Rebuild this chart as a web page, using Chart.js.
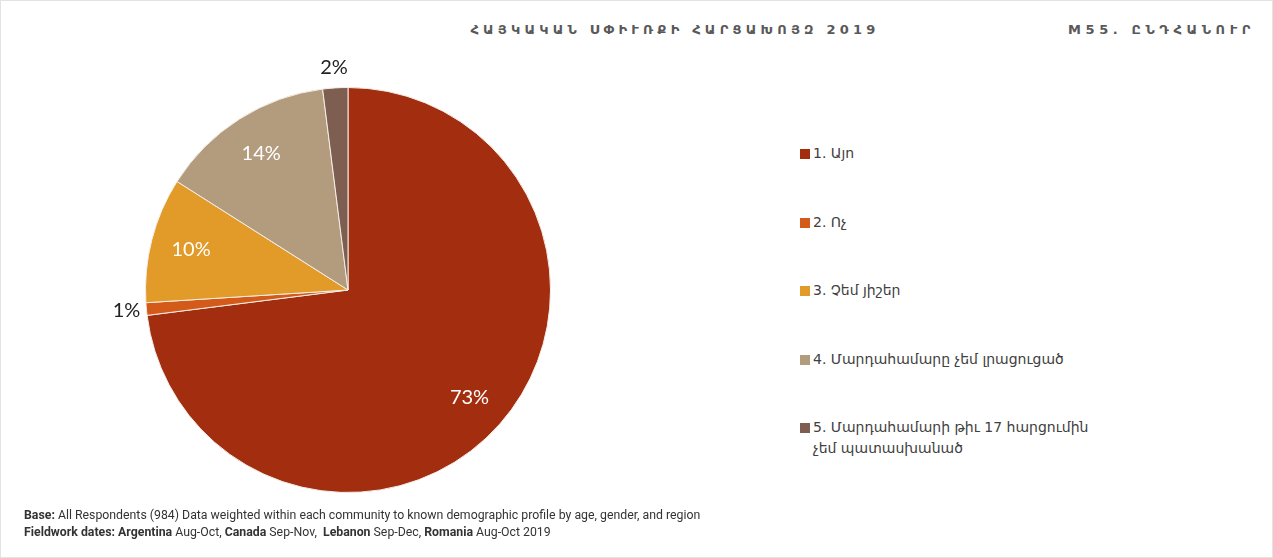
<!DOCTYPE html>
<html>
<head>
<meta charset="utf-8">
<script src="https://cdn.jsdelivr.net/npm/chart.js@4.4.0/dist/chart.umd.min.js"></script>
<style>
  html, body { margin: 0; padding: 0; background: #fff; }
  body { width: 1273px; height: 558px; position: relative; overflow: hidden; }
  .frame { position: absolute; left: 0; top: 0; width: 1271px; height: 556px; border: 1px solid #e3e3e3; }
  .title { position: absolute; top: 22px; left: 0; width: 1350px; text-align: center; font: bold 13px "DejaVu Sans", sans-serif; letter-spacing: 4.2px; color: #595959; }
  .code { position: absolute; top: 22px; right: 18px; font: bold 13px "DejaVu Sans", sans-serif; letter-spacing: 4.6px; color: #595959; }
  #chartBox { position: absolute; left: 100px; top: 60px; width: 496px; height: 460px; }
  #legend { position: absolute; left: 800px; top: 143px; margin: 0; padding: 0; list-style: none; font: 14px "DejaVu Sans", sans-serif; color: #404040; }
  #legend li { position: relative; height: 68.5px; padding-left: 13px; width: 292px; line-height: 21px; }
  #legend li span { position: absolute; left: 0; top: 6px; width: 10px; height: 10px; }
  .note { position: absolute; left: 24px; top: 507px; font: 12.3px "Liberation Sans Narrow", "Roboto", sans-serif; color: #333; line-height: 17px; }
</style>
</head>
<body>
<div class="frame"></div>
<div class="title">ՀԱՅԿԱԿԱՆ ՍՓԻՒՌՔԻ ՀԱՐՑԱԽՈՅԶ 2019</div>
<div class="code">M55. ԸՆԴՀԱՆՈՒՐ</div>
<div id="chartBox"><canvas id="pie"></canvas></div>
<ul id="legend"></ul>
<div class="note">
  <div><b>Base:</b> All Respondents (984) Data weighted within each community to known demographic profile by age, gender, and region</div>
  <div><b>Fieldwork dates: Argentina</b> Aug-Oct, <b>Canada</b> Sep-Nov,&nbsp; <b>Lebanon</b> Sep-Dec, <b>Romania</b> Aug-Oct 2019</div>
</div>
<script>
const labels = [
  "1. Այո",
  "2. Ոչ",
  "3. Չեմ յիշեր",
  "4. Մարդահամարը չեմ լրացուցած",
  "5. Մարդահամարի թիւ 17 հարցումին չեմ պատասխանած"
]
const values = [73, 1, 10, 14, 2]
const colors = ["#A32D0F", "#D45A1A", "#E29A28", "#B39C7E", "#7D5E50"]

// percentage labels: inside for big slices, outside for small ones
const pctLabels = {
  id: "pctLabels",
  afterDatasetsDraw(chart) {
    const ctx = chart.ctx
    const meta = chart.getDatasetMeta(0)
    ctx.save()
    ctx.font = "20px Lato, sans-serif"
    ctx.textAlign = "center"
    ctx.textBaseline = "middle"
    meta.data.forEach((arc, i) => {
      const p = arc.getProps(["x", "y", "startAngle", "endAngle", "outerRadius"], true)
      const mid = (p.startAngle + p.endAngle) / 2
      const v = chart.data.datasets[0].data[i]
      let r, col
      if (v >= 5) {
        r = p.outerRadius * 0.8
        col = "#ffffff"
      } else {
        r = p.outerRadius + 20
        col = "#222222"
      }
      ctx.fillStyle = col
      ctx.fillText(v + "%", p.x + Math.cos(mid) * r, p.y + Math.sin(mid) * r)
    })
    ctx.restore()
  }
}

const chart = new Chart(document.getElementById("pie"), {
  type: "pie",
  data: {
    labels: labels,
    datasets: [{
      data: values,
      backgroundColor: colors,
      borderColor: "#f4eee8",
      borderWidth: 1,
      hoverOffset: 0
    }]
  },
  options: {
    responsive: true,
    maintainAspectRatio: false,
    animation: false,
    layout: { padding: { left: 45, right: 45, top: 27, bottom: 27 } },
    plugins: {
      legend: { display: false },
      tooltip: { enabled: false }
    }
  },
  plugins: [pctLabels]
})

const legendEl = document.getElementById("legend")
chart.options.plugins.legend.labels.generateLabels(chart).forEach(item => {
  const li = document.createElement("li")
  const sw = document.createElement("span")
  sw.style.background = item.fillStyle
  li.appendChild(sw)
  li.appendChild(document.createTextNode(item.text))
  legendEl.appendChild(li)
})
</script>
</body>
</html>
